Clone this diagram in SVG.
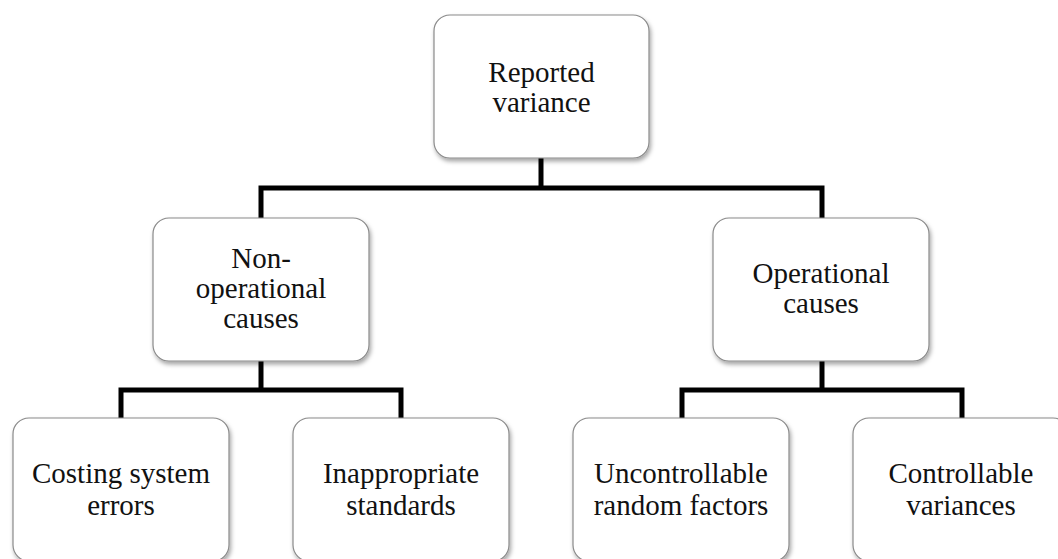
<svg xmlns="http://www.w3.org/2000/svg" width="1058" height="559" viewBox="0 0 1058 559">
<defs>
<filter id="sh" x="-10%" y="-10%" width="130%" height="130%">
<feDropShadow dx="1.5" dy="3" stdDeviation="2" flood-color="#000" flood-opacity="0.35"/>
</filter>
</defs>
<style>
.box{fill:#fff;stroke:#8a8a8a;stroke-width:1.2;filter:url(#sh)}
.t{font-family:"Liberation Serif","Times New Roman",serif;font-size:29px;fill:#111;text-anchor:middle}
.c{fill:none;stroke:#000;stroke-width:5;stroke-linejoin:miter;stroke-linecap:butt}
</style>
<rect width="1058" height="559" fill="#fff"/>
<g id="connectors">
<path class="c" d="M541,158 V188"/>
<path class="c" d="M261,218 V188 H822 V218"/>
<path class="c" d="M261,361 V390"/>
<path class="c" d="M121,418 V390 H401 V418"/>
<path class="c" d="M822,361 V390"/>
<path class="c" d="M682,418 V390 H962 V418"/>
</g>
<g id="reported">
<rect class="box" x="434" y="15" width="215" height="143" rx="16"/>
<text class="t" x="541.5" y="82">Reported</text>
<text class="t" x="541.5" y="112">variance</text>
</g>
<g id="nonoperational">
<rect class="box" x="153" y="218" width="216" height="143" rx="16"/>
<text class="t" x="261" y="268">Non-</text>
<text class="t" x="261" y="298">operational</text>
<text class="t" x="261" y="328">causes</text>
</g>
<g id="operational">
<rect class="box" x="713" y="218" width="216" height="143" rx="16"/>
<text class="t" x="821" y="283">Operational</text>
<text class="t" x="821" y="313">causes</text>
</g>
<g id="costing">
<rect class="box" x="13" y="418" width="216" height="143" rx="16"/>
<text class="t" x="121" y="483">Costing system</text>
<text class="t" x="121" y="515">errors</text>
</g>
<g id="inappropriate">
<rect class="box" x="293" y="418" width="216" height="143" rx="16"/>
<text class="t" x="401" y="483">Inappropriate</text>
<text class="t" x="401" y="515">standards</text>
</g>
<g id="uncontrollable">
<rect class="box" x="573" y="418" width="216" height="143" rx="16"/>
<text class="t" x="681" y="483">Uncontrollable</text>
<text class="t" x="681" y="515">random factors</text>
</g>
<g id="controllable">
<rect class="box" x="853" y="418" width="216" height="143" rx="16"/>
<text class="t" x="961" y="483">Controllable</text>
<text class="t" x="961" y="515">variances</text>
</g>
</svg>
